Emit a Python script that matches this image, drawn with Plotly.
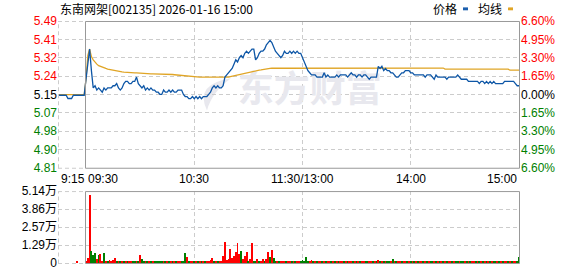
import plotly.graph_objects as go

# ---------------- data ----------------
PREV_CLOSE = 5.15
TITLE = "东南网架[002135] 2026-01-16 15:00"

# pre-market auction 09:15-09:29
pre_times = ["09:%02d" % m for m in range(15, 30)]
pre_price = [5.146, 5.146, 5.146, 5.146, 5.146, 5.131, 5.131, 5.131,
             5.146, 5.146, 5.146, 5.146, 5.146, 5.146, 5.146]
pre_avg = [5.149, 5.149, 5.149, 5.149, 5.149, 5.149, 5.149, 5.149,
           5.149, 5.149, 5.149, 5.149, 5.149, 5.149, 5.149]
pre_volume = [0, 0, 0, 0, 0, 0, 0, 0, 0, 0, 700, 0, 0, 0, 0]
pre_dir = "rrrrrrrrrrrrrrr"

# continuous session 09:30-11:30, 13:01-15:00
session_times = (["%02d:%02d" % (t // 60, t % 60) for t in range(570, 691)] +
                 ["%02d:%02d" % (t // 60, t % 60) for t in range(781, 901)])

price = [
    5.22, 5.30, 5.36, 5.26, 5.18, 5.19, 5.17, 5.18, 5.17, 5.16,
    5.18, 5.17, 5.18, 5.18, 5.18, 5.19, 5.19, 5.20, 5.18, 5.17,
    5.18, 5.20, 5.21, 5.21, 5.20, 5.20, 5.21, 5.21, 5.23, 5.20,
    5.19, 5.18, 5.19, 5.17, 5.18, 5.17, 5.18, 5.17, 5.17, 5.16,
    5.16, 5.15, 5.15, 5.17, 5.16, 5.16, 5.17, 5.16, 5.17, 5.16,
    5.16, 5.17, 5.17, 5.17, 5.15, 5.14, 5.14, 5.13, 5.13, 5.14,
    5.13, 5.14, 5.13, 5.14, 5.13, 5.14, 5.14, 5.14, 5.15, 5.16,
    5.18, 5.19, 5.18, 5.19, 5.18, 5.18, 5.19, 5.23, 5.24, 5.25,
    5.26, 5.27, 5.29, 5.31, 5.30, 5.32, 5.33, 5.32, 5.34, 5.35,
    5.34, 5.35, 5.36, 5.36, 5.31, 5.32, 5.34, 5.35, 5.35, 5.36,
    5.38, 5.39, 5.40, 5.39, 5.37, 5.35, 5.34, 5.33, 5.32, 5.33,
    5.35, 5.34, 5.34, 5.35, 5.34, 5.35, 5.34, 5.35, 5.34, 5.34,
    5.32, 5.30, 5.28, 5.26, 5.25, 5.24, 5.24, 5.24, 5.23, 5.23,
    5.23, 5.23, 5.25, 5.23, 5.24, 5.23, 5.23, 5.23, 5.23, 5.24,
    5.23, 5.24, 5.24, 5.24, 5.24, 5.23, 5.24, 5.25, 5.24, 5.24,
    5.23, 5.24, 5.24, 5.23, 5.24, 5.24, 5.23, 5.22, 5.23, 5.23,
    5.23, 5.23, 5.28, 5.27, 5.28, 5.26, 5.27, 5.26, 5.26, 5.25,
    5.25, 5.24, 5.23, 5.23, 5.24, 5.25, 5.25, 5.26, 5.26, 5.26,
    5.25, 5.25, 5.24, 5.24, 5.24, 5.24, 5.24, 5.24, 5.23, 5.24,
    5.24, 5.24, 5.23, 5.22, 5.24, 5.23, 5.23, 5.23, 5.23, 5.23,
    5.22, 5.23, 5.23, 5.23, 5.23, 5.23, 5.24, 5.23, 5.22, 5.22,
    5.22, 5.22, 5.21, 5.21, 5.21, 5.21, 5.21, 5.21, 5.20, 5.21,
    5.21, 5.20, 5.21, 5.20, 5.21, 5.20, 5.21, 5.20, 5.20, 5.20,
    5.20, 5.20, 5.21, 5.21, 5.21, 5.21, 5.21, 5.21, 5.20, 5.19,
    5.19,
]

avg_price = [
    5.220, 5.330, 5.360, 5.325, 5.310, 5.298, 5.290, 5.283, 5.279, 5.275,
    5.272, 5.270, 5.267, 5.265, 5.264, 5.263, 5.261, 5.260, 5.258, 5.256,
    5.254, 5.253, 5.252, 5.252, 5.251, 5.251, 5.250, 5.250, 5.250, 5.249,
    5.248, 5.248, 5.247, 5.247, 5.246, 5.246, 5.245, 5.245, 5.245, 5.245,
    5.244, 5.244, 5.244, 5.243, 5.243, 5.243, 5.242, 5.242, 5.242, 5.241,
    5.240, 5.239, 5.238, 5.237, 5.236, 5.235, 5.234, 5.233, 5.233, 5.232,
    5.232, 5.231, 5.231, 5.230, 5.230, 5.230, 5.229, 5.229, 5.229, 5.228,
    5.228, 5.228, 5.228, 5.227, 5.227, 5.227, 5.227, 5.227, 5.229, 5.230,
    5.232, 5.234, 5.236, 5.238, 5.240, 5.242, 5.244, 5.245, 5.247, 5.249,
    5.251, 5.253, 5.256, 5.258, 5.259, 5.260, 5.262, 5.263, 5.265, 5.266,
    5.268, 5.269, 5.270, 5.271, 5.271, 5.272, 5.272, 5.272, 5.272, 5.272,
    5.272, 5.272, 5.272, 5.272, 5.272, 5.272, 5.272, 5.272, 5.272, 5.272,
    5.272, 5.272, 5.272, 5.272, 5.272, 5.272, 5.272, 5.272, 5.272, 5.272,
    5.272, 5.272, 5.272, 5.272, 5.272, 5.272, 5.272, 5.272, 5.272, 5.272,
    5.272, 5.272, 5.272, 5.272, 5.272, 5.272, 5.272, 5.272, 5.272, 5.272,
    5.272, 5.272, 5.272, 5.272, 5.272, 5.272, 5.272, 5.272, 5.272, 5.272,
    5.272, 5.272, 5.272, 5.272, 5.272, 5.272, 5.272, 5.272, 5.272, 5.272,
    5.272, 5.272, 5.272, 5.272, 5.272, 5.272, 5.272, 5.272, 5.272, 5.272,
    5.272, 5.272, 5.272, 5.272, 5.272, 5.272, 5.272, 5.272, 5.272, 5.272,
    5.272, 5.272, 5.272, 5.272, 5.272, 5.272, 5.272, 5.272, 5.272, 5.267,
    5.267, 5.267, 5.267, 5.267, 5.267, 5.267, 5.267, 5.267, 5.267, 5.267,
    5.267, 5.267, 5.267, 5.267, 5.267, 5.267, 5.267, 5.267, 5.267, 5.267,
    5.267, 5.267, 5.267, 5.267, 5.267, 5.267, 5.267, 5.267, 5.267, 5.267,
    5.267, 5.267, 5.267, 5.267, 5.267, 5.262, 5.262, 5.262, 5.262, 5.262,
    5.262,
]

volume = [
    700, 3600, 48600, 8600, 5700, 7100, 2900, 5700, 6400, 700,
    7100, 700, 700, 2400, 1700, 2400, 3600, 700, 700, 700,
    700, 700, 700, 700, 700, 700, 700, 1700, 700, 700,
    6000, 2900, 700, 700, 700, 700, 700, 700, 700, 700,
    700, 700, 1400, 700, 700, 700, 700, 700, 700, 700,
    700, 700, 700, 700, 700, 7100, 4300, 700, 700, 700,
    700, 700, 700, 700, 700, 700, 700, 700, 700, 1900,
    3600, 700, 700, 700, 700, 700, 5000, 15000, 1900, 2900,
    10000, 3600, 5000, 7900, 14300, 6400, 8600, 2900, 5000, 7900,
    700, 2900, 14300, 1400, 1400, 2900, 700, 700, 2900, 700,
    2900, 7900, 4300, 9300, 3600, 700, 700, 700, 700, 700,
    700, 700, 700, 700, 700, 700, 700, 700, 700, 700,
    2100, 700, 4300, 700, 700, 2100, 700, 700, 700, 700,
    700, 700, 700, 700, 700, 700, 700, 700, 700, 700,
    700, 700, 700, 700, 700, 700, 700, 700, 700, 700,
    700, 700, 700, 700, 700, 700, 700, 700, 700, 700,
    700, 700, 2100, 700, 700, 700, 700, 700, 700, 700,
    2900, 700, 700, 700, 700, 700, 700, 700, 700, 700,
    700, 700, 700, 700, 700, 700, 700, 700, 700, 700,
    700, 700, 700, 700, 700, 700, 700, 700, 700, 700,
    700, 700, 700, 700, 700, 700, 700, 700, 700, 700,
    700, 700, 700, 700, 700, 700, 700, 700, 700, 700,
    700, 700, 700, 700, 700, 700, 700, 1400, 700, 700,
    700, 700, 700, 1400, 700, 700, 700, 700, 700, 700,
    4300,
]

# r = up minute (red bar), g = down minute (green bar)
volume_dir = ("rrrgggrgrr" "grgrrrrgrg" "rgrgrrggrg" "rggrgrgrgg" "gggrgrgrgr"
              "grrgggrgrr" "grgrgrgrrr" "rgrgrrrrrr" "rrrrrrgrrr" "grrggrgrrg"
              "rrgrggrgrr" "rgrrgrgrrg" "ggggrrgrgr" "rgrgrrgrgr" "grrgrgrrgr"
              "grgrrggrrg" "rgrgrgrggr" "grgrrgrrgr" "grgrgrrgrg" "rggrgrgrgr"
              "grrgrggrgg" "rgrgrrgrgr" "grgrgrggrg" "rgrrgrgrrg" "g")

price_tick_text = ["5.49", "5.41", "5.32", "5.24", "5.15", "5.07", "4.98", "4.90", "4.81"]
pct_tick_text = ["6.60%", "4.95%", "3.30%", "1.65%", "0.00%", "1.65%", "3.30%", "4.95%", "6.60%"]
PCT_LIMIT = 0.066
VOL_MAX = 51400
vol_tick_text = ["0", "1.29万", "2.57万", "3.86万", "5.14万"]
x_tick_labels = ["9:15", "09:30", "10:30", "11:30/13:00", "14:00", "15:00"]

# ---------------- style ----------------
W, H = 578, 276
ML, MR, MT, MB = 58, 58, 21, 6
PW, PH = W - ML - MR, H - MT - MB
RED, GREEN, BLACK = "#ff0000", "#008000", "#000000"
BLUE_LINE, GOLD_LINE = "#0d56a6", "#e0a526"
GRID = "#cccccc"
BOX = "#999999"
DASH = "4px,3px"
FONT = "Liberation Sans, Arial, Noto Sans CJK SC, sans-serif"
CJK = "Noto Sans CJK SC, sans-serif"


def fx(p):
    return (p - ML) / PW


def fy(p):
    return (H - MB - p) / PH


PRICE_TOP, PRICE_BOT, VOL_TOP, VOL_BOT = 21, 172, 196, 270

n_pre = len(pre_times)
x_pre = list(range(-n_pre, 0))
x_main = list(range(len(session_times)))
x_all = x_pre + x_main
X_RANGE = [-15.52, 240.55]

p_lo = PREV_CLOSE * (1 - PCT_LIMIT)
p_hi = PREV_CLOSE * (1 + PCT_LIMIT)
n_t = len(price_tick_text)
price_tick_vals = [p_hi - i * (p_hi - p_lo) / (n_t - 1) for i in range(n_t)]


def colour_for(i):
    mid = (n_t - 1) // 2
    return RED if i < mid else (BLACK if i == mid else GREEN)


price_ticks = ['<span style="color:%s">%s</span>' % (colour_for(i), t)
               for i, t in enumerate(price_tick_text)]
pct_ticks = ['<span style="color:%s">%s</span>' % (colour_for(i), t)
             for i, t in enumerate(pct_tick_text)]
vol_tick_vals = [VOL_MAX * i / (len(vol_tick_text) - 1) for i in range(len(vol_tick_text))]

all_dir = pre_dir + volume_dir
bar_colors = [RED if c == "r" else GREEN for c in all_dir]

fig = go.Figure()

# watermark (drawn first so the lines sit on top)
fig.add_trace(go.Scatter(
    x=[124.0], y=[PREV_CLOSE + 0.007], mode="text", text=["东方财富"],
    textfont=dict(family=CJK, size=36, color="#e8e8ee", weight="bold"),
    hoverinfo="skip", showlegend=False, xaxis="x", yaxis="y"))

fig.add_trace(go.Scatter(
    x=x_all, y=pre_avg + avg_price, mode="lines",
    line=dict(color=GOLD_LINE, width=1.3), hoverinfo="skip",
    xaxis="x", yaxis="y", name="均线"))
fig.add_trace(go.Scatter(
    x=x_all, y=pre_price + price, mode="lines",
    line=dict(color=BLUE_LINE, width=1.3),
    text=pre_times + session_times, hovertemplate="%{text} %{y:.2f}<extra></extra>",
    xaxis="x", yaxis="y", name="价格"))
# carrier for right-hand percent axis
fig.add_trace(go.Scatter(
    x=[X_RANGE[0]], y=[PREV_CLOSE], mode="markers", marker=dict(opacity=0),
    hoverinfo="skip", xaxis="x", yaxis="y2", showlegend=False))

fig.add_trace(go.Bar(
    x=x_all, y=pre_volume + volume, width=0.5,
    marker=dict(color=bar_colors, line=dict(width=0)),
    hoverinfo="skip", xaxis="x2", yaxis="y3", name="成交量"))

axis_common = dict(showline=False, zeroline=False, ticks="",
                   gridcolor=GRID, griddash=DASH, gridwidth=1)

price_dom = [fy(PRICE_BOT), fy(PRICE_TOP)]
vol_dom = [fy(VOL_BOT), fy(VOL_TOP)]

fig.update_layout(
    width=W, height=H, margin=dict(l=ML, r=MR, t=MT, b=MB),
    paper_bgcolor="white", plot_bgcolor="white", showlegend=False,
    bargap=0,
    font=dict(family=FONT, size=12, color=BLACK),
    xaxis=dict(domain=[0, 1], range=X_RANGE, anchor="y", tickvals=[60, 120, 180],
               showticklabels=False, showgrid=True, **axis_common),
    xaxis2=dict(domain=[0, 1], range=X_RANGE, anchor="y3", matches="x",
                tickvals=[60, 120, 180], showticklabels=False, showgrid=True, **axis_common),
    yaxis=dict(domain=price_dom, range=[p_lo, p_hi], tickvals=price_tick_vals,
               ticktext=price_ticks, showgrid=True, anchor="x",
               tickfont=dict(family=FONT, size=12, color=BLACK), **axis_common),
    yaxis2=dict(domain=price_dom, range=[p_lo, p_hi], overlaying="y", side="right",
                tickvals=price_tick_vals, ticktext=pct_ticks, showgrid=False, anchor="x",
                tickfont=dict(family=FONT, size=12, color=BLACK), **axis_common),
    yaxis3=dict(domain=vol_dom, range=[0, VOL_MAX], tickvals=vol_tick_vals,
                ticktext=vol_tick_text, showgrid=True, anchor="x2",
                tickfont=dict(family=FONT, size=12, color=BLACK), **axis_common),
)

shapes = []
# session boxes
for top, bot in ((PRICE_TOP, PRICE_BOT), (VOL_TOP, VOL_BOT)):
    shapes.append(dict(type="rect", xref="paper", yref="paper",
                       x0=fx(85.5), x1=fx(519.5), y0=fy(bot + 0.5), y1=fy(top + 0.5),
                       line=dict(color=BOX, width=1), fillcolor="rgba(0,0,0,0)"))
    # pre-market dashed edges
    for yy in (top + 0.5, bot + 0.5):
        shapes.append(dict(type="line", xref="paper", yref="paper",
                           x0=fx(58), x1=fx(85.5), y0=fy(yy), y1=fy(yy),
                           line=dict(color=GRID, width=1, dash=DASH)))
    shapes.append(dict(type="line", xref="paper", yref="paper",
                       x0=fx(58.5), x1=fx(58.5), y0=fy(bot + 0.5), y1=fy(top + 0.5),
                       line=dict(color=GRID, width=1, dash=DASH)))
# legend keys
shapes.append(dict(type="rect", xref="paper", yref="paper", x0=fx(463), x1=fx(468),
                   y0=fy(10), y1=fy(7), line=dict(width=0), fillcolor="#1b5fae"))
shapes.append(dict(type="rect", xref="paper", yref="paper", x0=fx(508), x1=fx(513),
                   y0=fy(10), y1=fy(7), line=dict(width=0), fillcolor="#e0a526"))
# watermark logo
lp = "M %.5f,%.5f Q %.5f,%.5f %.5f,%.5f Q %.5f,%.5f %.5f,%.5f Z" % (
    fx(231), fy(80), fx(194), fy(86), fx(207), fy(113), fx(212), fy(94), fx(231), fy(80))
shapes.append(dict(type="path", xref="paper", yref="paper", path=lp,
                   fillcolor="#e8e8ee", line=dict(width=0), layer="below"))
fig.update_layout(shapes=shapes)

ann = []
ann.append(dict(text=TITLE, xref="paper", yref="paper", x=fx(58), y=fy(8.5),
                xanchor="left", yanchor="middle", showarrow=False,
                font=dict(family=CJK, size=12, color=BLACK)))
ann.append(dict(text="价格", xref="paper", yref="paper", x=fx(431), y=fy(8.5),
                xanchor="left", yanchor="middle", showarrow=False,
                font=dict(family=CJK, size=12, color=BLACK)))
ann.append(dict(text="均线", xref="paper", yref="paper", x=fx(476), y=fy(8.5),
                xanchor="left", yanchor="middle", showarrow=False,
                font=dict(family=CJK, size=12, color=BLACK)))

x_tick_pos = [x_pre[0], 0, 60, 120, 180, 240]
x_tick_anchor = ["left", "left", "center", "center", "center", "right"]
for lab, pos, anc in zip(x_tick_labels, x_tick_pos, x_tick_anchor):
    ann.append(dict(text=lab, xref="x", yref="paper", x=pos, y=fy(183.5),
                    xanchor=anc, yanchor="middle", showarrow=False,
                    font=dict(family=FONT, size=12, color=BLACK)))
fig.update_layout(annotations=ann)

fig.write_html("out.html")
